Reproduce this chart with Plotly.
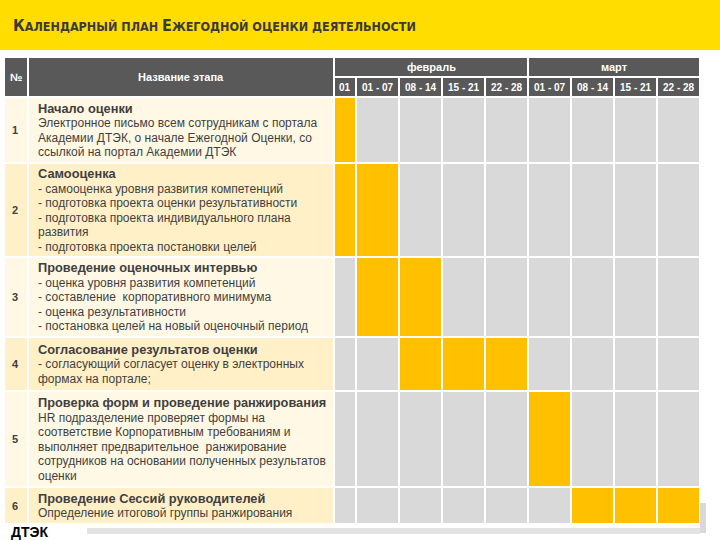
import plotly.graph_objects as go

# ---------------- data ----------------
TITLE_CAPS = ["К", "АЛЕНДАРНЫЙ ПЛАН ", "Е", "ЖЕГОДНОЙ ОЦЕНКИ ДЕЯТЕЛЬНОСТИ"]
HEAD_NUM = "№"
HEAD_NAME = "Название этапа"
MONTHS = ["февраль", "март"]
MONTH_SPANS = [5, 4]  # number of week columns per month
WEEKS = ["01", "01 - 07", "08 - 14", "15 - 21", "22 - 28", "01 - 07", "08 - 14", "15 - 21", "22 - 28"]
STAGE_NUMS = ["1", "2", "3", "4", "5", "6"]
STAGE_TITLES = [
    "Начало оценки",
    "Самооценка",
    "Проведение оценочных интервью",
    "Согласование результатов оценки",
    "Проверка форм и проведение ранжирования",
    "Проведение Сессий руководителей",
]
STAGE_DESCS = [
    ["Электронное письмо всем сотрудникам с портала",
     "Академии ДТЭК, о начале Ежегодной Оценки, со",
     "ссылкой на портал Академии ДТЭК"],
    ["- самооценка уровня развития компетенций",
     "- подготовка проекта оценки результативности",
     "- подготовка проекта индивидуального плана",
     "развития",
     "- подготовка проекта постановки целей"],
    ["- оценка уровня развития компетенций",
     "- составление  корпоративного минимума",
     "- оценка результативности",
     "- постановка целей на новый оценочный период"],
    ["- согласующий согласует оценку в электронных",
     "формах на портале;"],
    ["HR подразделение проверяет формы на",
     "соответствие Корпоративным требованиям и",
     "выполняет предварительное  ранжирование",
     "сотрудников на основании полученных результатов",
     "оценки"],
    ["Определение итоговой группы ранжирования"],
]
# active weeks per stage (1 = planned)
ACTIVE = [
    [1, 0, 0, 0, 0, 0, 0, 0, 0],
    [1, 1, 0, 0, 0, 0, 0, 0, 0],
    [0, 1, 1, 0, 0, 0, 0, 0, 0],
    [0, 0, 1, 1, 1, 0, 0, 0, 0],
    [0, 0, 0, 0, 0, 1, 0, 0, 0],
    [0, 0, 0, 0, 0, 0, 1, 1, 1],
]
LOGO = "ДТЭК"

# ---------------- layout constants (pixels) ----------------
W, H = 720, 540
BAND_H = 50
TBL_X0 = 4
NUM_W = 24
NAME_W = 306
WEEK_W = [22, 43, 43, 43, 43, 43, 43, 43, 43]
HDR_Y0 = 57
HDR_H = [20, 20]
ROW_H = [66, 94, 80, 54, 96, 37]
LINE_PX = 14.5
TITLE_GAP = 15

C_BAND = "#FFDD00"
C_HDR = "#595959"
C_ODD = "#FFF8E4"
C_EVEN = "#FFF0C8"
C_GREY = "#D9D9D9"
C_YEL = "#FFC000"
C_TXT = "#3F3F3F"
FONT = "Liberation Sans"
FONT_TITLE = "DejaVu Sans Condensed"

x_num0 = TBL_X0
x_name0 = x_num0 + NUM_W
x_g0 = x_name0 + NAME_W
x_edges = [x_g0]
for w in WEEK_W:
    x_edges.append(x_edges[-1] + w)
y_h1 = HDR_Y0 + HDR_H[0]
y_body0 = y_h1 + HDR_H[1]
y_edges = [y_body0]
for h in ROW_H:
    y_edges.append(y_edges[-1] + h)

shapes = []
annots = []


def cell(x0, x1, y0, y1, color, g=1):
    shapes.append(dict(type="rect", xref="x", yref="y", x0=x0 + g, x1=x1 - g,
                       y0=y0 + g, y1=y1 - g, fillcolor=color, line=dict(width=0),
                       layer="below"))


def text(x, y, s, size=11, color=C_TXT, xa="center", ya="middle", bold=False, family=FONT):
    annots.append(dict(x=x, y=y, xref="x", yref="y", text=("<b>%s</b>" % s) if bold else s,
                       showarrow=False, xanchor=xa, yanchor=ya, align="left",
                       font=dict(size=size, color=color, family=family)))


# top band and title
shapes.append(dict(type="rect", xref="x", yref="y", x0=0, x1=W, y0=0, y1=BAND_H,
                   fillcolor=C_BAND, line=dict(width=0), layer="below"))
title = ("<b><span style='font-size:16px'>%s</span>%s<span style='font-size:16px'>%s</span>%s</b>"
         % tuple(TITLE_CAPS))
annots.append(dict(x=11, y=25, xref="x", yref="y", text=title, showarrow=False,
                   xanchor="left", yanchor="middle",
                   font=dict(size=12.5, color="#3A3A3A", family=FONT_TITLE)))

# header
y_hend = y_body0
cell(x_num0, x_name0, HDR_Y0, y_hend, C_HDR)
text((x_num0 + x_name0) / 2, (HDR_Y0 + y_hend) / 2, HEAD_NUM, 11, "white", bold=True)
cell(x_name0, x_g0, HDR_Y0, y_hend, C_HDR)
text((x_name0 + x_g0) / 2, (HDR_Y0 + y_hend) / 2, HEAD_NAME, 11, "white", bold=True)
ci = 0
for m, span in zip(MONTHS, MONTH_SPANS):
    xa, xb = x_edges[ci], x_edges[ci + span]
    cell(xa, xb, HDR_Y0, y_h1, C_HDR)
    text((xa + xb) / 2, (HDR_Y0 + y_h1) / 2, m, 11, "white", bold=True)
    ci += span
for i, wk in enumerate(WEEKS):
    xa, xb = x_edges[i], x_edges[i + 1]
    cell(xa, xb, y_h1, y_hend, C_HDR)
    text((xa + xb) / 2, (y_h1 + y_hend) / 2, wk, 10, "white", bold=True)

# body left columns
for r in range(len(STAGE_NUMS)):
    ya, yb = y_edges[r], y_edges[r + 1]
    col = C_ODD if r % 2 == 0 else C_EVEN
    cell(x_num0, x_name0, ya, yb, col)
    cell(x_name0, x_g0, ya, yb, col)
    yc = (ya + yb) / 2
    text((x_num0 + x_name0) / 2 - 1, yc, STAGE_NUMS[r], 11, C_TXT, bold=True)
    descs = STAGE_DESCS[r]
    block = TITLE_GAP + LINE_PX * (len(descs) - 1)
    y_title = yc - block / 2
    text(x_name0 + 8, y_title, STAGE_TITLES[r], 12.8, C_TXT, xa="left", bold=True)
    for j, line in enumerate(descs):
        text(x_name0 + 8, y_title + TITLE_GAP + j * LINE_PX, line, 12, C_TXT, xa="left")

# bottom decoration
shapes.append(dict(type="rect", xref="x", yref="y", x0=x_edges[-1], x1=x_edges[-1] + 6,
                   y0=503, y1=533, fillcolor="#D9D9D9", line=dict(width=0), layer="below"))
shapes.append(dict(type="rect", xref="x", yref="y", x0=87, x1=x_edges[-1],
                   y0=528, y1=534, fillcolor="#E3E3E3", line=dict(width=0), layer="below"))
text(9, 532, "<b>%s</b>" % LOGO, 14, "black", xa="left")

fig = go.Figure()
fig.add_trace(go.Heatmap(
    x=x_edges, y=y_edges, z=ACTIVE, zmin=0, zmax=1,
    colorscale=[[0, C_GREY], [0.5, C_GREY], [0.5, C_YEL], [1, C_YEL]],
    showscale=False, xgap=2, ygap=2, hoverinfo="skip"))

fig.update_layout(
    width=W, height=H, margin=dict(l=0, r=0, t=0, b=0),
    paper_bgcolor="white", plot_bgcolor="white",
    xaxis=dict(range=[0, W], visible=False, fixedrange=True),
    yaxis=dict(range=[H, 0], visible=False, fixedrange=True),
    shapes=shapes, annotations=annots, showlegend=False,
)
fig.write_html("out.html", config={"displayModeBar": False},
               post_script="document.body.style.margin='0';")
